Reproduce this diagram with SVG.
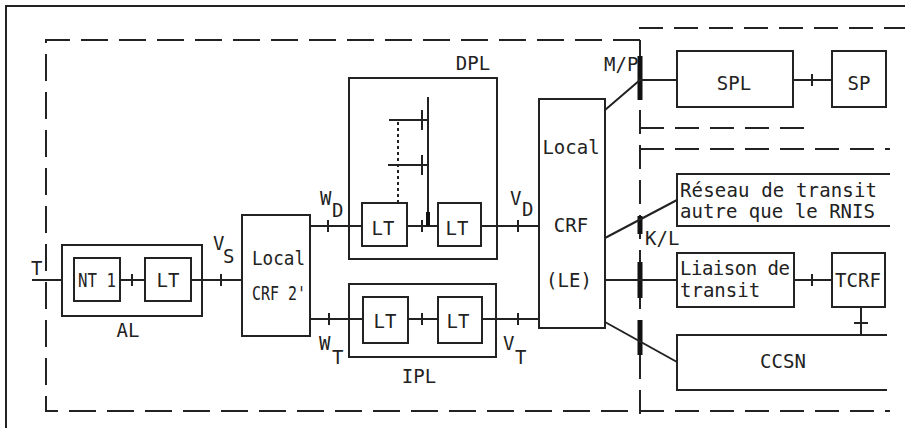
<svg xmlns="http://www.w3.org/2000/svg" width="905" height="428" viewBox="0 0 905 428">
<style>
.b{fill:none;stroke:#222;stroke-width:2}
.l{fill:none;stroke:#222;stroke-width:2}
.tk{fill:none;stroke:#222;stroke-width:2}
.d{fill:none;stroke:#222;stroke-width:2;stroke-dasharray:27 11}
.d2{fill:none;stroke:#222;stroke-width:2;stroke-dasharray:24 11}
.th{fill:none;stroke:#111;stroke-width:5}
.dot{fill:none;stroke:#222;stroke-width:2;stroke-dasharray:3 3}
text{font-family:"DejaVu Sans Mono","Liberation Mono",monospace;font-size:19px;fill:#222}
.m{text-anchor:middle}
</style>
<rect width="905" height="428" fill="#fff"/>
<g id="frame">
<path class="l" d="M6,428 V6 H905"/>
<path class="d" d="M640,40 H46 V411 H640"/>
<path class="d2" d="M640,414 V28 H905"/>
<path class="d2" d="M640,128 H815"/>
<path class="d2" d="M640,149 H890"/>
<path class="d2" d="M640,411 H890"/>
<path class="th" d="M640,56 V100 M640,216 V234 M640,262 V298 M640,320 V355"/>
<text x="604" y="71">M/P</text>
<text x="645" y="245">K/L</text>
</g>
<g id="connectors">
<path class="l" d="M32,280 H62"/>
<path class="l" d="M120,280 H145 M191,280 H242"/>
<path class="l" d="M310,226 H362 M407,226 H438 M481,226 H539"/>
<path class="l" d="M428,97 V226"/>
<path class="th" d="M428,212 V226" style="stroke-width:4"/>
<path class="l" d="M389,120 H428 M388,165 H428"/>
<path class="dot" d="M398,122 V203"/>
<path class="l" d="M310,319 H363 M408,319 H438 M482,319 H539"/>
<path class="l" d="M605,110 L640,80 H677 M793,80 H832"/>
<path class="l" d="M605,238 L677,200"/>
<path class="l" d="M605,280 H677 M794,280 H832"/>
<path class="l" d="M861,307 V335"/>
<path class="l" d="M605,322 L677,362"/>
<path class="tk" d="M132,274 V286 M221,274 V286 M328,220 V232 M422,220 V232 M518,220 V232 M329,313 V325 M422,313 V325 M518,313 V325 M422,110 V130 M422,155 V175 M812,74 V86 M812,274 V286 M854,323 H868"/>
<text x="31" y="275">T</text>
<text x="213" y="250">V</text><text x="223" y="263">S</text>
<text x="320" y="205">W</text><text x="332" y="217">D</text>
<text x="510" y="205">V</text><text x="522" y="216">D</text>
<text x="319" y="350">W</text><text x="332" y="364">T</text>
<text x="503" y="350">V</text><text x="515" y="364">T</text>
</g>
<g id="AL">
<rect class="b" x="62" y="245" width="140" height="71"/>
<text class="m" x="128" y="337">AL</text>
</g>
<g id="NT1">
<rect class="b" x="74" y="258" width="46" height="43"/>
<text x="78" y="287" textLength="38" lengthAdjust="spacingAndGlyphs">NT 1</text>
</g>
<g id="LT_AL">
<rect class="b" x="145" y="258" width="46" height="43"/>
<text class="m" x="168" y="287">LT</text>
</g>
<g id="CRF2">
<rect class="b" x="242" y="215" width="68" height="121"/>
<text x="252" y="265" textLength="53" lengthAdjust="spacingAndGlyphs">Local</text>
<text x="252" y="300" textLength="54" lengthAdjust="spacingAndGlyphs">CRF 2'</text>
</g>
<g id="DPL">
<rect class="b" x="349" y="78" width="148" height="181"/>
<text class="m" x="473" y="70">DPL</text>
</g>
<g id="LT_D1">
<rect class="b" x="362" y="203" width="45" height="43"/>
<text class="m" x="383" y="235">LT</text>
</g>
<g id="LT_D2">
<rect class="b" x="438" y="203" width="43" height="43"/>
<text class="m" x="457" y="235">LT</text>
</g>
<g id="IPL">
<rect class="b" x="349" y="284" width="147" height="73"/>
<text class="m" x="419" y="383">IPL</text>
</g>
<g id="LT_I1">
<rect class="b" x="363" y="297" width="45" height="46"/>
<text class="m" x="385" y="328">LT</text>
</g>
<g id="LT_I2">
<rect class="b" x="438" y="297" width="44" height="46"/>
<text class="m" x="458" y="328">LT</text>
</g>
<g id="LE">
<rect class="b" x="539" y="99" width="66" height="229"/>
<text class="m" x="571" y="154">Local</text>
<text class="m" x="571" y="232">CRF</text>
<text class="m" x="569" y="287">(LE)</text>
</g>
<g id="SPL">
<rect class="b" x="677" y="51" width="116" height="56"/>
<text class="m" x="734" y="90">SPL</text>
</g>
<g id="SP">
<rect class="b" x="832" y="51" width="54" height="56"/>
<text class="m" x="859" y="90">SP</text>
</g>
<g id="Reseau">
<path class="b" d="M890,174 H677 V226 H890"/>
<text x="680" y="197" textLength="197" lengthAdjust="spacing">Réseau de transit</text>
<text x="680" y="218" textLength="195" lengthAdjust="spacing">autre que le RNIS</text>
</g>
<g id="Liaison">
<rect class="b" x="677" y="253" width="117" height="54"/>
<text x="680" y="275" textLength="110" lengthAdjust="spacing">Liaison de</text>
<text x="680" y="297">transit</text>
</g>
<g id="TCRF">
<rect class="b" x="832" y="253" width="53" height="54"/>
<text class="m" x="858" y="287">TCRF</text>
</g>
<g id="CCSN">
<path class="b" d="M887,335 H677 V390 H887"/>
<text class="m" x="783" y="368">CCSN</text>
</g>
</svg>
